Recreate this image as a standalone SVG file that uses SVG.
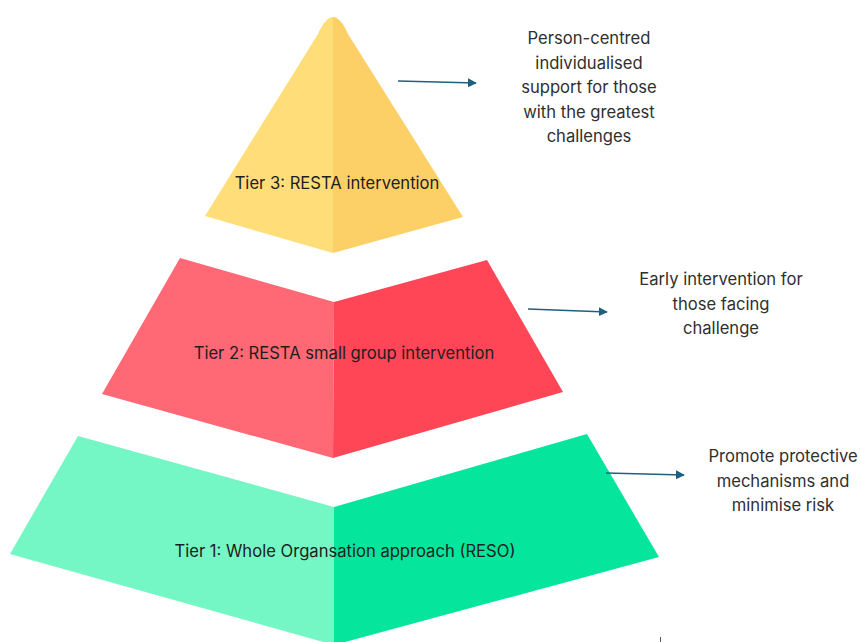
<svg xmlns="http://www.w3.org/2000/svg" width="861" height="642" viewBox="0 0 861 642">
  <defs>
    <style>
      .lbl { font-family: Inter, "Liberation Sans", sans-serif; font-size: 16.6px; fill: #1e1e1e; text-anchor: middle; }
      .note { font-family: Inter, "Liberation Sans", sans-serif; font-size: 16.6px; fill: #303030; text-anchor: middle; }
      .conn { stroke: #1f5f80; stroke-width: 1.5; fill: none; marker-end: url(#ah); }
    </style>
    <marker id="ah" viewBox="0 0 10 10" refX="9" refY="5" markerWidth="6" markerHeight="6" markerUnits="strokeWidth" orient="auto">
      <path d="M0,0 L10,5 L0,10 Z" fill="#1f5f80"/>
    </marker>
  </defs>
  <rect width="861" height="642" fill="#ffffff"/>

  <g id="tier1">
    <path d="M334,507 L78,436 L10,554 L334,645 Z" fill="#74f7c4"/>
    <path d="M334,507 L587,434 L659,557 L334,645 Z" fill="#05e59b"/>
    <text class="lbl" x="345" y="557">Tier 1: Whole Organsation approach (RESO)</text>
  </g>

  <g id="tier2">
    <path d="M334,302 L180,258 L102,394 L333,458 Z" fill="#ff6874"/>
    <path d="M334,302 L487,260 L563,392 L333,458 Z" fill="#ff4656"/>
    <text class="lbl" x="344" y="359">Tier 2: RESTA small group intervention</text>
  </g>

  <g id="tier3">
    <path d="M333,253 L205,216 L318,34 Q325.5,17 333,17 Z" fill="#ffde7a"/>
    <path d="M333,17 Q340.5,17 348,34 L463,217 L333,253 Z" fill="#fdd067"/>
    <text class="lbl" x="337" y="189">Tier 3: RESTA intervention</text>
  </g>

  <g id="note3">
    <text class="note" x="589" y="44">Person-centred</text>
    <text class="note" x="589" y="68.5">individualised</text>
    <text class="note" x="589" y="93">support for those</text>
    <text class="note" x="589" y="117.5">with the greatest</text>
    <text class="note" x="589" y="142">challenges</text>
  </g>

  <g id="note2">
    <text class="note" x="721" y="285">Early intervention for</text>
    <text class="note" x="721" y="309.5">those facing</text>
    <text class="note" x="721" y="334">challenge</text>
  </g>

  <g id="note1">
    <text class="note" x="783" y="462">Promote protective</text>
    <text class="note" x="783" y="486.5">mechanisms and</text>
    <text class="note" x="783" y="511">minimise risk</text>
  </g>

  <g id="connectors">
    <path class="conn" d="M398,81 L476,83"/>
    <path class="conn" d="M528,309 L607,312"/>
    <path class="conn" d="M606,473 L684,475"/>
  </g>

  <line x1="660.5" y1="637" x2="660.5" y2="642" stroke="#555555" stroke-width="1"/>
</svg>
